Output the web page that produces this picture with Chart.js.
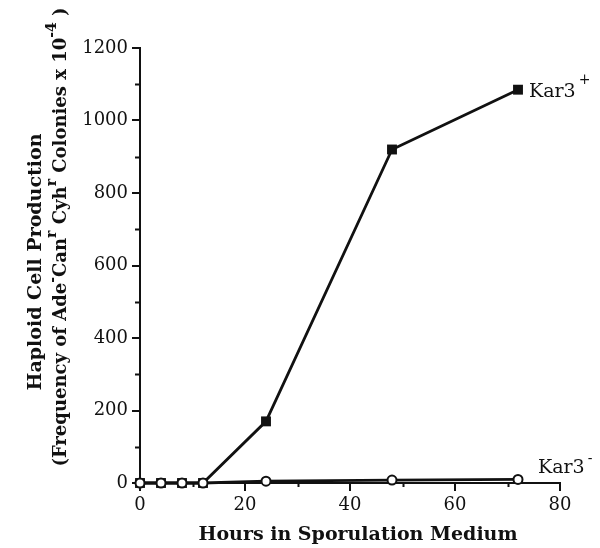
<!DOCTYPE html>
<html>
<head>
<meta charset="utf-8">
<script src="https://cdn.jsdelivr.net/npm/chart.js@4"></script>
<style>
  body { margin: 0; background: #fff; }
  #chart { display: block; }
</style>
</head>
<body>
<canvas id="chart" width="600" height="548"></canvas>
<script>
// values
const hours = [0, 4, 8, 12, 24, 48, 72];
const kar3Plus = [0, 0, 0, 0, 170, 920, 1085];
const kar3Minus = [0, 0, 0, 0, 5, 8, 10];
const xTicks = [0, 20, 40, 60, 80];
const yTicks = [0, 200, 400, 600, 800, 1000, 1200];
const xMinor = [10, 30, 50, 70];
const yMinor = [100, 300, 500, 700, 900, 1100];

const FONT = '"DejaVu Serif", serif';
const ink = '#111';

const toPoints = (xs, ys) => xs.map((x, i) => ({ x: x, y: ys[i] }));

// draws a list of text pieces (with superscripts) centred on x,y
function drawRuns(ctx, runs, x, y) {
    let total = 0;
    runs.forEach(r => {
        ctx.font = `${r.bold ? 'bold ' : ''}${r.size}px ${FONT}`;
        r.w = ctx.measureText(r.text).width;
        total += r.w;
    });
    let cx = x - total / 2;
    runs.forEach(r => {
        ctx.font = `${r.bold ? 'bold ' : ''}${r.size}px ${FONT}`;
        ctx.fillText(r.text, cx, y - (r.up || 0));
        cx += r.w;
    });
}

const annotations = {
    id: 'annotations',
    afterDraw(chart) {
        const ctx = chart.ctx;
        const xs = chart.scales.x, ys = chart.scales.y;
        ctx.save();
        ctx.fillStyle = ink;
        ctx.strokeStyle = ink;
        ctx.lineWidth = 2;
        ctx.textBaseline = 'alphabetic';
        ctx.textAlign = 'left';

        // minor ticks
        const x0 = xs.left, y0 = ys.bottom;
        ctx.beginPath();
        yMinor.forEach(v => {
            const py = Math.round(ys.getPixelForValue(v)) + 0.5;
            ctx.moveTo(x0 - 5, py); ctx.lineTo(x0, py);
        });
        xMinor.forEach(v => {
            const px = Math.round(xs.getPixelForValue(v)) + 0.5;
            ctx.moveTo(px, y0); ctx.lineTo(px, y0 + 4);
        });
        ctx.stroke();

        // series labels at the last points
        const last = hours.length - 1;
        const px = xs.getPixelForValue(hours[last]);
        let py = ys.getPixelForValue(kar3Plus[last]);
        ctx.font = `19px ${FONT}`;
        ctx.fillText('Kar3', px + 11, py + 7);
        let w = ctx.measureText('Kar3').width;
        ctx.font = `14px ${FONT}`;
        ctx.fillText('+', px + 11 + w + 3, py - 6);

        py = ys.getPixelForValue(kar3Minus[last]);
        ctx.font = `19px ${FONT}`;
        ctx.fillText('Kar3', px + 20, py - 6);
        w = ctx.measureText('Kar3').width;
        ctx.font = `14px ${FONT}`;
        ctx.fillText('-', px + 20 + w + 3, py - 16);

        // x title
        drawRuns(ctx, [{ text: 'Hours in Sporulation Medium', size: 19, bold: true }], 358, 540);

        // y title, rotated
        ctx.save();
        ctx.translate(41, 262);
        ctx.rotate(-Math.PI / 2);
        drawRuns(ctx, [{ text: 'Haploid Cell Production', size: 19, bold: true }], 0, 0);
        ctx.restore();

        ctx.save();
        ctx.translate(66, 237);
        ctx.rotate(-Math.PI / 2);
        drawRuns(ctx, [
            { text: '(Frequency of Ade', size: 18, bold: true },
            { text: '-', size: 14, bold: true, up: 9 },
            { text: 'Can', size: 18, bold: true },
            { text: 'r', size: 14, bold: true, up: 10 },
            { text: ' Cyh', size: 18, bold: true },
            { text: 'r', size: 14, bold: true, up: 10 },
            { text: ' Colonies x 10', size: 18, bold: true },
            { text: '-4', size: 14, bold: true, up: 10 },
            { text: ' )', size: 18, bold: true }
        ], 0, 0);
        ctx.restore();
        ctx.restore();
    }
};

new Chart(document.getElementById('chart'), {
    type: 'line',
    data: {
        datasets: [
            {
                label: 'Kar3-',
                data: toPoints(hours, kar3Minus),
                borderColor: ink,
                borderWidth: 2.8,
                pointStyle: 'circle',
                pointRadius: 4.5,
                pointBorderWidth: 2,
                pointBackgroundColor: '#fff',
                pointBorderColor: ink,
                order: 0
            },
            {
                label: 'Kar3+',
                data: toPoints(hours, kar3Plus),
                borderColor: ink,
                borderWidth: 2.8,
                pointStyle: 'rect',
                pointRadius: 7,
                pointBorderWidth: 0,
                pointBackgroundColor: ink,
                pointBorderColor: ink,
                order: 1
            }
        ]
    },
    options: {
        responsive: false,
        animation: false,
        clip: false,
        layout: { padding: { top: 48, right: 40, left: 0, bottom: 0 } },
        plugins: { legend: { display: false }, tooltip: { enabled: false } },
        scales: {
            x: {
                type: 'linear',
                min: 0, max: 80,
                afterBuildTicks: s => { s.ticks = xTicks.map(v => ({ value: v })); },
                afterFit: s => { s.height = 65; },
                ticks: { color: ink, padding: 4, font: { family: FONT, size: 18 }, callback: v => String(v) },
                grid: { drawOnChartArea: false, color: ink, lineWidth: 2, tickLength: 8 },
                border: { color: ink, width: 2 }
            },
            y: {
                min: 0, max: 1200,
                afterBuildTicks: s => { s.ticks = yTicks.map(v => ({ value: v })); },
                afterFit: s => { s.width = 140; },
                ticks: { color: ink, padding: 4, font: { family: FONT, size: 18 }, callback: v => String(v) },
                grid: { drawOnChartArea: false, color: ink, lineWidth: 2, tickLength: 8 },
                border: { color: ink, width: 2 }
            }
        }
    },
    plugins: [annotations]
});
</script>
</body>
</html>
